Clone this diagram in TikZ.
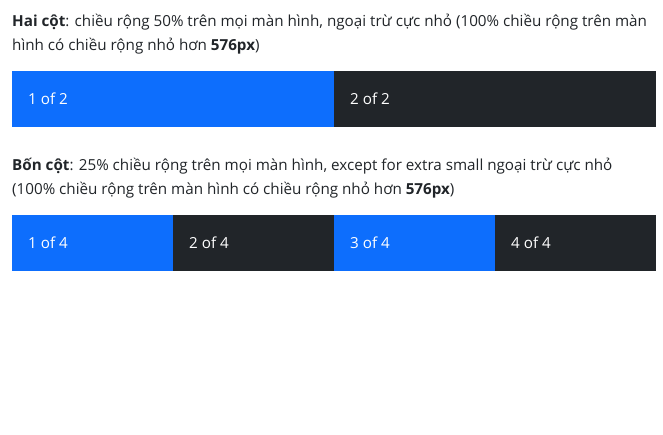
\documentclass[tikz,border=0pt]{standalone}
\usepackage{fontspec}
\setmainfont{Open Sans}
\definecolor{bsblue}{HTML}{0D6EFD}
\definecolor{bsdark}{HTML}{212529}
\begin{document}
\begin{tikzpicture}[x=1pt,y=-1pt,
  txt/.style={anchor=base west,inner sep=0pt,text=bsdark,font=\fontsize{15.2}{19}\selectfont},
  cell/.style={draw=none,minimum height=56pt,inner sep=0pt,anchor=north west},
  bluecell/.style={cell,fill=bsblue},
  darkcell/.style={cell,fill=bsdark},
  lbl/.style={anchor=west,inner sep=0pt,text=white,font=\fontsize{15.2}{19}\selectfont}]
\useasboundingbox[fill=white] (0,0) rectangle (663,434);
\node[txt] (p1a) at (12,26) {\textbf{Hai cột}: chiều rộng 50\% trên mọi màn hình, ngoại trừ cực nhỏ (100\% chiều rộng trên màn};
\node[txt] (p1b) at (12,50) {hình có chiều rộng nhỏ hơn \textbf{576px})};
\node[bluecell,minimum width=322pt] (c21) at (12,71) {};
\node[darkcell,minimum width=322pt] (c22) at (334,71) {};
\node[lbl] (l21) at (28,99) {1 of 2};
\node[lbl] (l22) at (350,99) {2 of 2};
\node[txt] (p2a) at (12,170) {\textbf{Bốn cột}: 25\% chiều rộng trên mọi màn hình, except for extra small ngoại trừ cực nhỏ};
\node[txt] (p2b) at (12,194) {(100\% chiều rộng trên màn hình có chiều rộng nhỏ hơn \textbf{576px})};
\node[bluecell,minimum width=161pt] (c41) at (12,215) {};
\node[darkcell,minimum width=161pt] (c42) at (173,215) {};
\node[bluecell,minimum width=161pt] (c43) at (334,215) {};
\node[darkcell,minimum width=161pt] (c44) at (495,215) {};
\node[lbl] (l41) at (28,243) {1 of 4};
\node[lbl] (l42) at (189,243) {2 of 4};
\node[lbl] (l43) at (350,243) {3 of 4};
\node[lbl] (l44) at (511,243) {4 of 4};
\end{tikzpicture}
\end{document}
